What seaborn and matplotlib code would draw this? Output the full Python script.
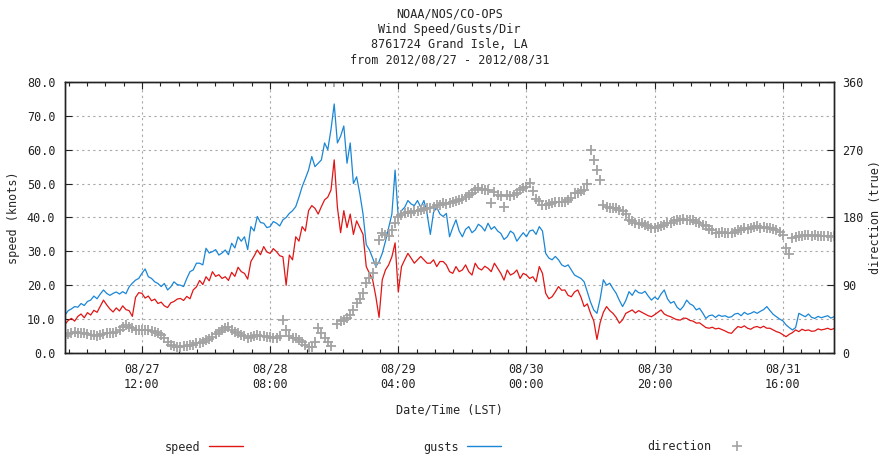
import pandas as pd
import seaborn as sns
import matplotlib.pyplot as plt
from matplotlib.ticker import AutoMinorLocator, MultipleLocator
from matplotlib.lines import Line2D

# half-hourly readings, 2012/08/27 00:00 -> 2012/09/01 00:00
speed = [
    8.5, 9.6, 10.2, 9.4, 10.8, 11.5, 10.4, 11.9, 11.2, 12.6, 12.0, 13.8,
    15.6, 14.2, 13.0, 12.1, 13.3, 12.4, 13.9, 12.8, 12.5, 10.8, 16.4, 17.8,
    17.6, 16.2, 16.8, 15.4, 15.9, 14.6, 15.0, 13.9, 13.4, 14.8, 15.2, 15.9,
    16.1, 15.5, 16.7, 16.0, 18.6, 19.5, 21.4, 20.2, 22.5, 21.3, 24.0, 22.6,
    23.1, 22.0, 22.5, 21.4, 23.8, 22.6, 25.3, 24.0, 23.5, 21.8, 27.0, 28.6,
    30.4, 29.0, 31.4, 29.8, 29.4, 30.8, 29.9, 28.7, 28.4, 20.0, 28.9, 27.5,
    34.3, 33.0, 37.3, 36.0, 42.0, 43.5, 42.7, 41.0, 43.2, 45.2, 46.0, 48.1,
    57.0, 43.0, 35.5, 42.0, 37.0, 41.0, 35.0, 39.0, 37.0, 35.0, 25.5, 23.5,
    21.6, 16.6, 10.5, 21.6, 24.5, 26.0, 28.4, 32.5, 18.0, 25.5, 27.5, 29.4,
    28.0, 26.5, 27.5, 28.5, 27.5, 26.5, 26.5, 27.5, 25.5, 27.0, 27.0, 26.0,
    24.0, 23.5, 25.5, 24.0, 24.5, 26.0, 24.0, 23.0, 26.5, 25.0, 24.5, 25.6,
    25.0, 24.0, 26.5, 25.0, 23.5, 21.5, 24.5, 23.0, 23.5, 24.5, 22.0, 23.5,
    23.0, 22.0, 22.5, 21.0, 25.5, 23.5, 17.6, 16.0, 16.6, 18.0, 19.6, 18.5,
    18.6, 17.0, 16.6, 18.0, 18.6, 16.5, 13.7, 14.5, 11.7, 9.5, 4.0, 9.0,
    12.0, 13.7, 12.5, 11.7, 10.5, 8.8, 9.8, 11.7, 12.2, 12.7, 11.8, 12.5,
    12.0, 11.5, 11.0, 10.7, 11.3, 12.0, 12.7, 11.5, 11.0, 10.7, 10.2, 9.8,
    9.7, 10.3, 10.2, 9.6, 9.4, 8.8, 8.9, 8.2, 7.5, 7.3, 7.6, 7.1,
    7.3, 6.9, 6.5, 6.0, 5.8, 6.9, 7.8, 7.5, 8.0, 7.3, 7.0, 7.6,
    7.8, 7.4, 7.9, 7.3, 7.3, 6.8, 6.3, 6.0, 5.4, 4.8, 5.5, 6.0,
    6.8, 6.3, 7.0, 6.6, 6.8, 6.4, 6.5, 7.1, 6.8, 7.0, 7.3, 6.9,
    7.2,
]
gusts = [
    11.2, 12.5, 13.0, 13.7, 13.5, 14.6, 14.0, 15.2, 15.6, 16.8, 16.0, 17.4,
    18.6, 17.6, 17.0, 17.6, 18.0, 17.4, 18.1, 17.5, 19.5, 20.6, 21.5, 22.0,
    23.5, 24.8, 22.5, 22.0, 21.0, 20.5, 19.6, 20.5, 18.6, 19.5, 21.0, 20.2,
    20.0, 19.6, 22.0, 24.0, 24.5, 26.5, 26.5, 26.0, 30.9, 29.5, 29.9, 30.5,
    28.9, 29.5, 30.4, 29.0, 32.4, 31.0, 34.3, 33.0, 34.3, 30.5, 37.3, 36.0,
    40.3, 38.5, 38.3, 37.0, 37.3, 38.8, 38.3, 37.5, 39.3, 40.0, 41.2, 42.0,
    43.2, 46.0, 49.1, 51.5, 54.0, 58.0, 55.0, 56.0, 57.0, 62.0, 60.0, 66.0,
    73.5, 62.0, 64.0, 67.0, 56.0, 62.0, 50.0, 52.0, 47.0, 41.0, 32.0, 30.4,
    28.0, 25.5, 27.0, 29.4, 33.0, 37.0, 41.0, 54.0, 40.0, 42.0, 43.0, 45.0,
    44.0, 43.5, 45.0, 43.0, 45.0, 41.0, 35.0, 41.5, 43.0, 41.0, 40.3, 41.2,
    34.3, 37.0, 39.3, 36.0, 34.3, 36.5, 37.3, 35.5, 36.3, 38.0, 37.3, 36.0,
    38.3, 36.5, 37.3, 36.0, 35.3, 33.5, 34.3, 36.0, 35.3, 33.0, 34.3, 35.5,
    34.3, 36.0, 36.3, 35.0, 37.3, 36.0, 29.4, 28.0, 27.5, 28.5, 27.5, 26.0,
    25.5, 26.0, 24.5, 23.0, 22.5, 22.0, 21.0, 18.0, 15.0, 12.7, 11.7, 16.0,
    21.6, 20.0, 20.6, 19.0, 17.6, 15.5, 13.7, 15.5, 18.1, 17.0, 18.6, 17.8,
    17.6, 18.2, 16.8, 15.6, 16.5, 15.8, 17.4, 18.6, 16.0, 14.7, 15.2, 13.5,
    12.7, 13.8, 15.6, 14.5, 14.0, 12.7, 13.2, 11.8, 10.2, 11.0, 11.2, 10.5,
    11.2, 10.8, 11.0, 10.5, 10.7, 11.5, 11.7, 11.0, 12.0, 11.4, 11.7, 12.2,
    11.7, 12.3, 12.8, 13.7, 12.5, 11.4, 10.7, 10.0, 9.5, 8.3, 7.5, 6.8,
    7.5, 11.7, 11.2, 10.7, 11.5, 10.5, 10.2, 10.8, 10.4, 10.7, 11.0, 10.3,
    10.7,
]
direction = [
    22, 25, 27, 28, 27, 26, 26, 25, 24, 24, 23, 24,
    25, 26, 27, 27, 28, 30, 34, 37, 35, 33, 31, 30,
    30, 31, 30, 29, 28, 26, 24, 19.5, 15, 10.6, 9, 8,
    8.4, 9, 9.5, 10.6, 11, 12.8, 13, 15, 17, 19, 21.7, 25,
    28, 31, 33, 34, 31, 28, 26, 24, 22, 19.5, 21, 23,
    24, 23, 22, 21.7, 21, 20, 19.5, 22, 44, 30, 22, 20,
    19.5, 17, 14, 11, 8.4, 8, 15, 33, 26, 19.5, 15, 9,
    360, 39, 42, 44, 47, 50, 57, 66, 72, 79, 93, 99,
    106, 120, 150, 159, 157, 155, 164, 172, 181, 183, 186, 187,
    186, 188, 188, 190, 191, 192, 192, 194, 197, 196, 199, 198,
    199, 201, 202, 203, 205, 207, 210, 213, 216, 219, 218, 217,
    217, 199, 214, 210, 208, 194, 210, 209, 210, 213, 217, 219,
    221, 226, 215, 205, 202, 197, 197, 198, 199, 200, 201, 200,
    201, 203, 206, 212, 212, 215, 217, 225, 270, 256, 243, 230,
    197, 194, 192, 193, 192, 190, 188, 184, 177, 175, 172, 171,
    172, 170, 168, 166, 166, 167, 168, 170, 172, 173, 175, 177,
    177, 178, 177, 176, 177, 174, 172, 170, 168, 165, 163, 160,
    159, 161, 159, 160, 159, 161, 163, 164, 166, 165, 166, 167,
    168, 166, 167, 166, 166, 165, 163, 161, 157, 140, 132, 153,
    154, 155, 156, 157, 157, 156, 157, 156, 155, 156, 155, 154,
    155,
]

tick_times = ["2012-08-27 12:00", "2012-08-28 08:00", "2012-08-29 04:00",
              "2012-08-30 00:00", "2012-08-30 20:00", "2012-08-31 16:00"]
tick_labels = ["08/27\n12:00", "08/28\n08:00", "08/29\n04:00",
               "08/30\n00:00", "08/30\n20:00", "08/31\n16:00"]

RED = "#e01515"
BLUE = "#1a86d6"
GRAY = "#a3a3a3"
FS = 8.5

times = pd.date_range("2012-08-27 00:00", periods=len(speed), freq="30min")
df = pd.DataFrame({"time": times, "speed": speed, "gusts": gusts,
                   "direction": direction})

sns.set_theme(style="ticks", rc={
    "font.size": FS, "axes.labelsize": FS, "axes.titlesize": FS,
    "xtick.labelsize": FS, "ytick.labelsize": FS, "legend.fontsize": FS,
})
plt.rcParams["font.family"] = ["DejaVu Sans Mono"]
plt.rcParams["axes.edgecolor"] = "#222222"
plt.rcParams["xtick.color"] = "#222222"
plt.rcParams["ytick.color"] = "#222222"

fig = plt.figure(figsize=(8.86, 4.62), dpi=100)
ax = fig.add_axes([0.0734, 0.236, 0.868, 0.5866])
ax2 = ax.twinx()

sns.lineplot(data=df, x="time", y="speed", ax=ax, color=RED, lw=0.9)
sns.lineplot(data=df, x="time", y="gusts", ax=ax, color=BLUE, lw=0.9)
sns.scatterplot(data=df, x="time", y="direction", ax=ax2, marker="+",
                s=50, color=GRAY, linewidth=1.3)

ax.set_xlim(times[0], times[-1])
ax.set_ylim(0, 80)
ax2.set_ylim(0, 360)

ax.set_xticks(pd.to_datetime(tick_times))
ax.set_xticklabels(tick_labels)
ax.xaxis.set_minor_locator(AutoMinorLocator(7))
ax.yaxis.set_major_locator(MultipleLocator(10))
ax.yaxis.set_major_formatter("{x:.1f}")
ax2.set_yticks([0, 90, 180, 270, 360])

ax.tick_params(axis="x", which="both", direction="in", top=True, bottom=True)
ax.tick_params(axis="x", which="major", length=5, width=0.8, pad=7)
ax.tick_params(axis="x", which="minor", length=3, width=0.8)
ax.tick_params(axis="y", direction="in", length=5, width=0.8, pad=7,
               left=True, right=False)
ax2.tick_params(axis="y", direction="in", length=5, width=0.8, pad=6)

ax.set_axisbelow(True)
ax.grid(True, which="major", color="#a8a8a8", linestyle=(0, (2, 3)),
        linewidth=0.8)
for a in (ax, ax2):
    for sp in a.spines.values():
        sp.set_linewidth(1.0)

ax.set_xlabel("Date/Time (LST)", labelpad=9)
ax.set_ylabel("speed (knots)", labelpad=5)
ax2.set_ylabel("direction (true)", labelpad=4)
ax.set_title("NOAA/NOS/CO-OPS\nWind Speed/Gusts/Dir\n8761724 Grand Isle, LA\n"
             "from 2012/08/27 - 2012/08/31", linespacing=1.25, pad=13)

# gnuplot-like key under the plot: one entry per position
handles = [
    Line2D([], [], color=RED, lw=1),
    Line2D([], [], color=BLUE, lw=1),
    Line2D([], [], ls="none", marker="+", color=GRAY, markersize=7,
           markeredgewidth=1.2),
]
names = ["speed", "gusts", "direction"]
starts = [165, 423, 647]
for h, name, x0 in zip(handles, names, starts):
    fig.legend(handles=[h], labels=[name], loc="center left",
               bbox_to_anchor=(x0 / 886, 1 - 447 / 462), frameon=False,
               markerfirst=False, handlelength=2.9, handletextpad=0.7,
               borderpad=0, borderaxespad=0)

fig.savefig("out.png", dpi=100)
